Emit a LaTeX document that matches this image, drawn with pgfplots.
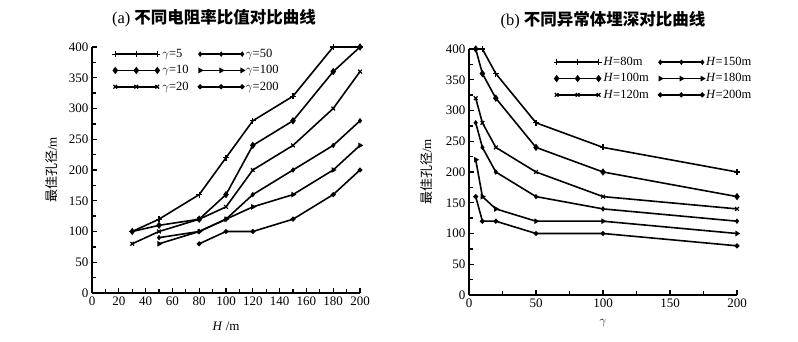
\documentclass[border=0pt]{standalone}
\usepackage{fontspec}
\setmainfont{Liberation Serif}
\newfontfamily\cjk{Noto Sans CJK SC}
\usepackage{pgfplots}
\pgfplotsset{compat=1.18}
\begin{document}
\begin{tikzpicture}[x=1pt,y=1pt]
\path[use as bounding box] (0,0) rectangle (798,342);
\pgfplotsset{
 myaxis/.style={
  scale only axis, width=268pt, height=246pt,
  axis lines=left, axis line style={-, line width=1.5pt},
  enlargelimits=false, clip=false,
  ymin=0, ymax=400, ytick={0,50,...,400}, minor y tick num=1,
  tick align=inside, major tick length=5pt, minor tick length=3.5pt,
  every tick/.style={black, line width=1.3pt},
  tick label style={font=\fontsize{13}{13}\selectfont},
  /pgf/number format/assume math mode=true,
  ylabel={{\cjk 最佳孔径}/m},
  ylabel style={at={(axis description cs:-0.15,0.5)}, anchor=center, font=\fontsize{13}{13}\selectfont},
  title style={font=\fontsize{16.5}{17}\selectfont, yshift=10pt},
  every axis plot/.append style={black, line width=1.6pt},
  legend style={draw=none, fill=none, font=\fontsize{12.5}{12.5}\selectfont, inner sep=0pt,
    row sep=2.5pt, /tikz/every even column/.append style={column sep=8pt}},
  legend columns=2, legend cell align=left,
  legend image code/.code={\draw[##1] plot coordinates {(0pt,0pt) (21pt,0pt) (42pt,0pt)};},
 },
 m1/.style={mark=+, mark size=3pt, mark options={line width=1.2pt}},
 m2/.style={mark=diamond*, mark size=2.4pt},
 m3/.style={mark=x, mark size=2.6pt, mark options={line width=1.2pt}},
 m4/.style={mark=diamond*, mark size=1.5pt},
 m5/.style={mark=triangle*, mark size=1.8pt, mark options={rotate=-90}},
 m6/.style={mark=*, mark size=1.6pt},
}
\begin{axis}[myaxis, at={(92pt,49pt)}, anchor=south west,
  xmin=0, xmax=200, xtick={0,20,...,200}, minor x tick num=1,
  title={(a) {\cjk\bfseries 不同电阻率比值对比曲线}}, title style={xshift=-12pt},
  xlabel={\textit{H} /m},
  xlabel style={at={(axis description cs:0.5,-0.134)}, anchor=center, font=\fontsize{13}{13}\selectfont},
  legend style={at={(0.075,1.0)}, anchor=north west}]
\addplot[m1] coordinates {(30,100)(50,120)(80,160)(100,220)(120,280)(150,320)(180,400)(200,400)};
\addlegendentry{$\gamma$=5}
\addplot[m4] coordinates {(50,90)(80,100)(100,120)(120,160)(150,200)(180,240)(200,280)};
\addlegendentry{$\gamma$=50}
\addplot[m2] coordinates {(30,100)(50,110)(80,120)(100,160)(120,240)(150,280)(180,360)(200,400)};
\addlegendentry{$\gamma$=10}
\addplot[m5] coordinates {(50,80)(80,100)(100,120)(120,140)(150,160)(180,200)(200,240)};
\addlegendentry{$\gamma$=100}
\addplot[m3] coordinates {(30,80)(50,100)(80,120)(100,140)(120,200)(150,240)(180,300)(200,360)};
\addlegendentry{$\gamma$=20}
\addplot[m6] coordinates {(80,80)(100,100)(120,100)(150,120)(180,160)(200,200)};
\addlegendentry{$\gamma$=200}
\end{axis}
\begin{axis}[myaxis, at={(469pt,47pt)}, anchor=south west,
  xmin=0, xmax=200, xtick={0,50,...,200}, minor x tick num=1,
  title={(b) {\cjk\bfseries 不同异常体埋深对比曲线}},
  xlabel={$\gamma$},
  xlabel style={at={(axis description cs:0.5,-0.114)}, anchor=center, font=\fontsize{13}{13}\selectfont},
  ylabel style={at={(axis description cs:-0.16,0.5)}},
  legend style={at={(0.315,0.975)}, anchor=north west}]
\addplot[m1] coordinates {(5,400)(10,400)(20,360)(50,280)(100,240)(200,200)};
\addlegendentry{\textit{H}=80m}
\addplot[m4] coordinates {(5,280)(10,240)(20,200)(50,160)(100,140)(200,120)};
\addlegendentry{\textit{H}=150m}
\addplot[m2] coordinates {(5,400)(10,360)(20,320)(50,240)(100,200)(200,160)};
\addlegendentry{\textit{H}=100m}
\addplot[m5] coordinates {(5,220)(10,160)(20,140)(50,120)(100,120)(200,100)};
\addlegendentry{\textit{H}=180m}
\addplot[m3] coordinates {(5,320)(10,280)(20,240)(50,200)(100,160)(200,140)};
\addlegendentry{\textit{H}=120m}
\addplot[m6] coordinates {(5,160)(10,120)(20,120)(50,100)(100,100)(200,80)};
\addlegendentry{\textit{H}=200m}
\end{axis}
\end{tikzpicture}
\end{document}
